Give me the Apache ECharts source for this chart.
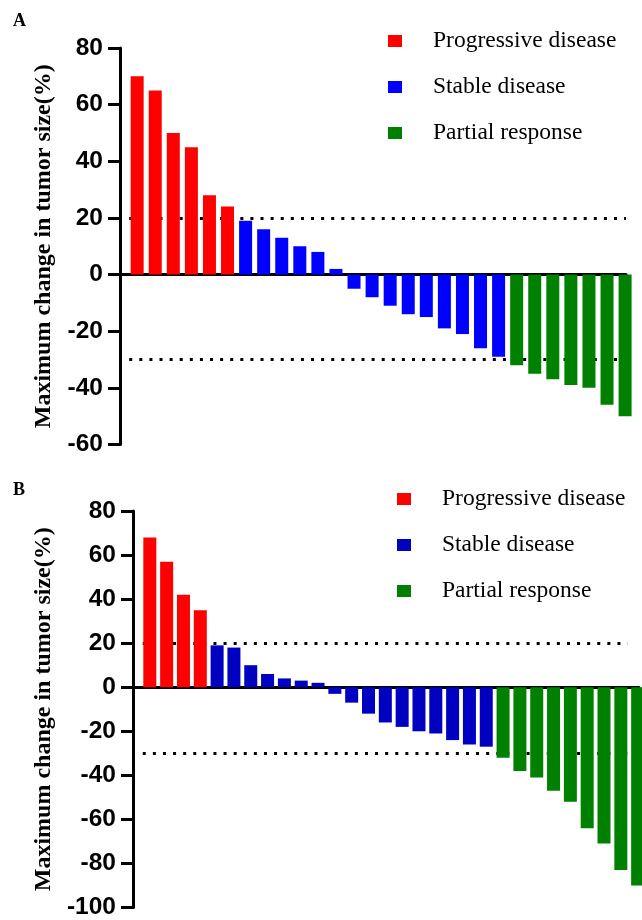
<!DOCTYPE html>
<html>
<head>
<meta charset="utf-8">
<script src="https://cdn.jsdelivr.net/npm/echarts@6/dist/echarts.min.js"></script>
<style>
  html, body { margin: 0; padding: 0; background: #fff; }
  #a, #b { position: absolute; left: 0; width: 642px; height: 460px; }
  #a { top: 0; }
  #b { top: 460px; }
</style>
</head>
<body>
<div id="a"></div>
<div id="b"></div>
<script>
// ---- data ----
const legendNames = ['Progressive disease', 'Stable disease', 'Partial response'];
const axisTitle = 'Maximum change in tumor size(%)';
const thresholds = [20, -30];

// Panel A
const progA = [70, 65, 50, 45, 28, 24];
const stableA = [19, 16, 13, 10, 8, 2, -5, -8, -11, -14, -15, -19, -21, -26, -29];
const partialA = [-32, -35, -37, -39, -40, -46, -50];
const yTicksA = [-60, -40, -20, 0, 20, 40, 60, 80];

// Panel B
const progB = [68, 57, 42, 35];
const stableB = [19, 18, 10, 6, 4, 3, 2, -3, -7, -12, -16, -18, -20, -21, -24, -26, -27];
const partialB = [-32, -38, -41, -47, -52, -64, -71, -83, -90];
const yTicksB = [-100, -80, -60, -40, -20, 0, 20, 40, 60, 80];

function toPairs(groups) {
  const out = [];
  let idx = 0;
  groups.forEach(g => {
    out.push(g.map(v => [idx++, v]));
  });
  return out;
}

function makeOption(cfg) {
  const pairs = toPairs(cfg.groups);
  const series = pairs.map((d, i) => {
    const s = {
      type: 'bar',
      name: legendNames[i],
      data: d,
      barWidth: cfg.barWidth,
      barGap: '-100%',
      clip: false,
      z: 2,
      itemStyle: { color: cfg.colors[i] }
    };
    if (i === 1) {
      s.markLine = {
        z: 1,
        silent: true,
        symbol: 'none',
        label: { show: false },
        lineStyle: { color: '#000', width: 3, type: [3, 7.1] },
        data: thresholds.map(t => [{ coord: [cfg.dotStart, t] }, { coord: [cfg.dotEnd, t] }])
      };
    }
    return s;
  });
  return {
    animation: false,
    title: {
      text: cfg.letter, left: 13, top: cfg.letterTop, padding: 0,
      textStyle: { fontFamily: 'Liberation Serif', fontWeight: 'bold', fontSize: 18, color: '#000' }
    },
    legend: {
      orient: 'vertical', left: cfg.legendLeft, top: cfg.legendTop, padding: 0,
      itemWidth: 14, itemHeight: 12, itemGap: 22, icon: 'rect',
      selectedMode: false,
      data: legendNames,
      textStyle: { fontFamily: 'Liberation Serif', fontSize: 23.5, color: '#000', padding: [0, 0, 0, 26] }
    },
    grid: { left: cfg.gridLeft, top: cfg.gridTop, width: cfg.gridWidth, height: cfg.gridHeight },
    xAxis: {
      type: 'value', min: cfg.xMin, max: cfg.xMax,
      axisLine: { show: true, onZero: true, lineStyle: { color: '#000', width: 3 } },
      axisTick: { show: false }, axisLabel: { show: false }, splitLine: { show: false }
    },
    yAxis: {
      type: 'value',
      min: cfg.yTicks[0], max: cfg.yTicks[cfg.yTicks.length - 1],
      interval: cfg.yTicks[1] - cfg.yTicks[0],
      axisLine: { show: true, onZero: false, lineStyle: { color: '#000', width: 3 } },
      axisTick: { show: true, length: 12, lineStyle: { color: '#000', width: 3 } },
      axisLabel: { fontFamily: 'Liberation Sans', fontWeight: 'bold', fontSize: 24.5, color: '#000', margin: 17 },
      splitLine: { show: false },
      name: axisTitle, nameLocation: 'middle', nameGap: cfg.nameGap,
      nameTextStyle: { fontFamily: 'Liberation Serif', fontWeight: 'bold', fontSize: 24, color: '#000' }
    },
    series: series
  };
}

const chartA = echarts.init(document.getElementById('a'), null, { renderer: 'canvas' });
chartA.setOption(makeOption({
  letter: 'A', letterTop: 12,
  groups: [progA, stableA, partialA],
  colors: ['#ff0000', '#0000ff', '#008000'],
  barWidth: 13,
  gridLeft: 120, gridTop: 48, gridWidth: 506, gridHeight: 396.5,
  xMin: -0.95, xMax: 27.05,
  dotStart: -0.44, dotEnd: 27.05,
  yTicks: yTicksA,
  nameGap: 64,
  legendLeft: 388, legendTop: 29
}));

const chartB = echarts.init(document.getElementById('b'), null, { renderer: 'canvas' });
chartB.setOption(makeOption({
  letter: 'B', letterTop: 21,
  groups: [progB, stableB, partialB],
  colors: ['#ff0000', '#0000c0', '#008000'],
  barWidth: 13,
  gridLeft: 133, gridTop: 51, gridWidth: 506, gridHeight: 397,
  xMin: -1.0, xMax: 29.08,
  dotStart: -0.42, dotEnd: 28.41,
  yTicks: yTicksB,
  nameGap: 76,
  legendLeft: 397, legendTop: 27
}));
</script>
</body>
</html>
